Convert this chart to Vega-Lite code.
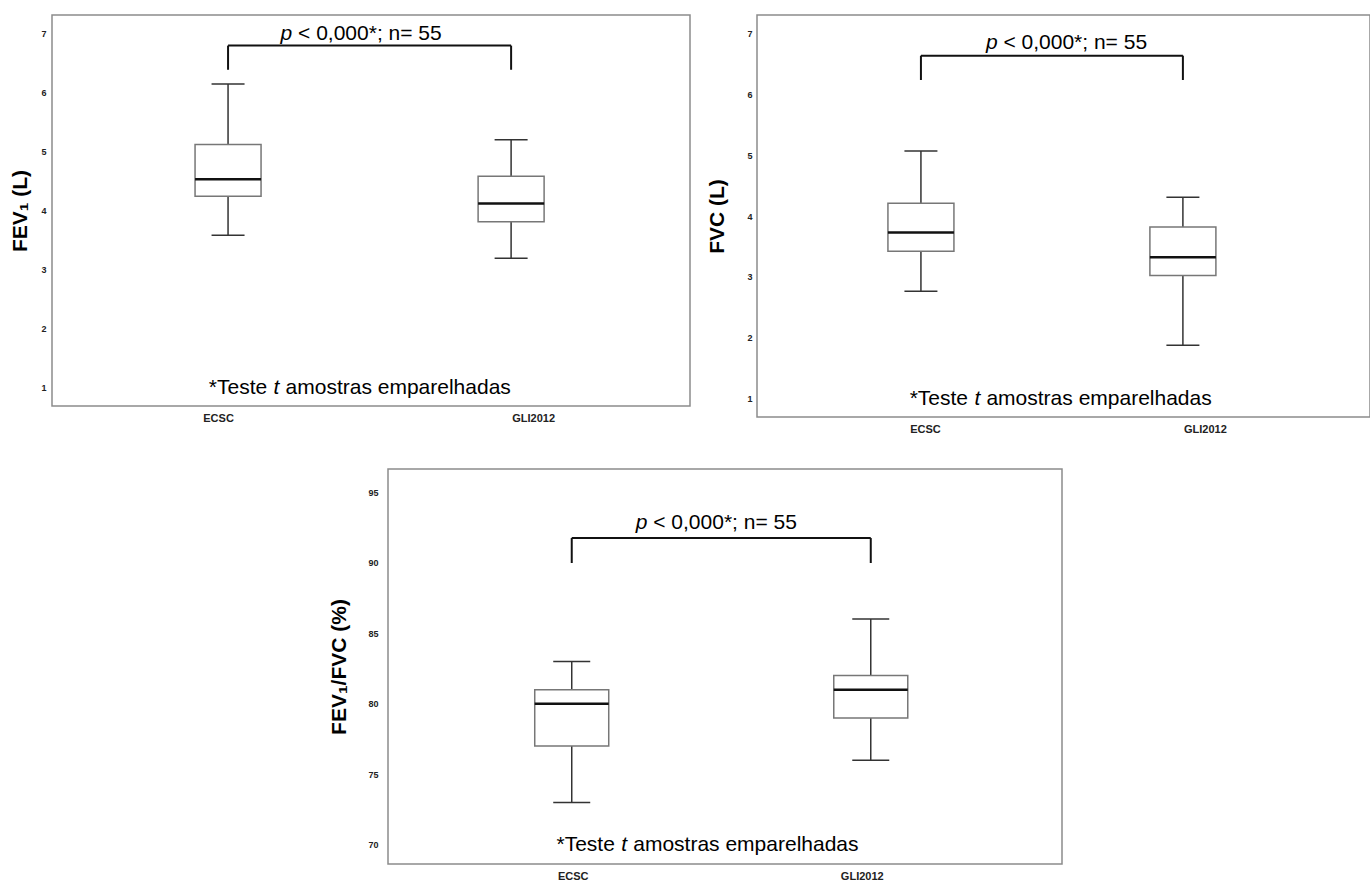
{
  "$schema": "https://vega.github.io/schema/vega-lite/v6.json",
  "padding": {"left": 9, "top": 14, "right": 0, "bottom": 0},
  "autosize": {"type": "pad"},
  "background": "white",
  "spacing": 33,
  "config": {
    "font": "Liberation Sans",
    "view": {"stroke": null},
    "axis": {"ticks": false, "domain": false, "grid": false, "labelColor": "#222", "labelFontWeight": "bold", "titleColor": "#000", "titleFontWeight": "bold", "titleFontSize": 21}
  },
  "datasets": {
    "fev1": [
      {"grupo": "ECSC", "min": 3.58, "q1": 4.24, "med": 4.53, "q3": 5.12, "max": 6.15},
      {"grupo": "GLI2012", "min": 3.19, "q1": 3.81, "med": 4.12, "q3": 4.58, "max": 5.2}
    ],
    "fvc": [
      {"grupo": "ECSC", "min": 2.76, "q1": 3.42, "med": 3.73, "q3": 4.21, "max": 5.07},
      {"grupo": "GLI2012", "min": 1.87, "q1": 3.02, "med": 3.32, "q3": 3.82, "max": 4.31}
    ],
    "ratio": [
      {"grupo": "ECSC", "min": 73, "q1": 77, "med": 80, "q3": 81, "max": 83},
      {"grupo": "GLI2012", "min": 76, "q1": 79, "med": 81, "q3": 82, "max": 86}
    ]
  },
  "vconcat": [
    {
      "bounds": "flush",
      "spacing": 67,
      "hconcat": [
        {
          "width": 638,
          "height": 391,
          "view": {"stroke": "#8c8c8c", "strokeWidth": 1.5},
          "data": {"name": "fev1"},
          "encoding": {
            "x": {"field": "grupo", "type": "nominal", "scale": {"type": "point", "padding": 0.627, "align": 0.496}, "axis": {"title": null, "labelFontSize": 11, "labelPadding": 6, "labelAngle": 0, "labelOffset": {"condition": {"test": "datum.value === 'ECSC'", "value": -10}, "value": 22}}}
          },
          "layer": [
            {"mark": {"type": "rule", "color": "#333", "strokeWidth": 1.5},
             "encoding": {"y": {"field": "min", "type": "quantitative", "scale": {"domain": [0.68, 7.32], "nice": false, "zero": false}, "axis": {"values": [1, 2, 3, 4, 5, 6, 7], "format": "d", "labelFontSize": 9, "labelPadding": 6, "titlePadding": 10}, "title": "FEV₁ (L)"}, "y2": {"field": "max"}}},
            {"mark": {"type": "bar", "width": 66, "fill": "white", "stroke": "#777", "strokeWidth": 1.5},
             "encoding": {"y": {"field": "q1", "type": "quantitative"}, "y2": {"field": "q3"}}},
            {"mark": {"type": "tick", "orient": "horizontal", "size": 66, "thickness": 2.5, "color": "#111", "opacity": 1},
             "encoding": {"y": {"field": "med", "type": "quantitative"}}},
            {"mark": {"type": "tick", "orient": "horizontal", "size": 33, "thickness": 1.5, "color": "#333", "opacity": 1},
             "encoding": {"y": {"field": "max", "type": "quantitative"}}},
            {"mark": {"type": "tick", "orient": "horizontal", "size": 33, "thickness": 1.5, "color": "#333", "opacity": 1},
             "encoding": {"y": {"field": "min", "type": "quantitative"}}},
            {"mark": {"type": "rule", "color": "#111", "strokeWidth": 2},
             "encoding": {"y": {"datum": 6.8}, "y2": {"datum": 6.39}}},
            {"data": {"values": [{}]},
             "layer": [
               {"mark": {"type": "rule", "color": "#111", "strokeWidth": 2},
                "encoding": {"x": {"datum": "ECSC", "type": "nominal"}, "x2": {"datum": "GLI2012"}, "y": {"datum": 6.8}}},
               {"mark": {"type": "text", "text": "p", "fontStyle": "italic", "fontSize": 21, "align": "left", "baseline": "middle", "dx": 52.5, "color": "#000"},
                "encoding": {"x": {"datum": "ECSC", "type": "nominal"}, "y": {"datum": 7.0}}},
               {"mark": {"type": "text", "text": "< 0,000*; n= 55", "fontSize": 21, "align": "left", "baseline": "middle", "dx": 70, "color": "#000"},
                "encoding": {"x": {"datum": "ECSC", "type": "nominal"}, "y": {"datum": 7.0}}},
               {"mark": {"type": "text", "text": "*Teste", "fontSize": 21, "align": "left", "baseline": "middle", "dx": -19.25, "color": "#000"},
                "encoding": {"x": {"datum": "ECSC", "type": "nominal"}, "y": {"datum": 0.98}}},
               {"mark": {"type": "text", "text": "t", "fontStyle": "italic", "fontSize": 21, "align": "left", "baseline": "middle", "dx": 45.5, "color": "#000"},
                "encoding": {"x": {"datum": "ECSC", "type": "nominal"}, "y": {"datum": 0.98}}},
               {"mark": {"type": "text", "text": "amostras emparelhadas", "fontSize": 21, "align": "left", "baseline": "middle", "dx": 57.5, "color": "#000"},
                "encoding": {"x": {"datum": "ECSC", "type": "nominal"}, "y": {"datum": 0.98}}}
             ]}
          ]
        },
        {
          "width": 613,
          "height": 402,
          "view": {"stroke": "#8c8c8c", "strokeWidth": 1.5},
          "data": {"name": "fvc"},
          "encoding": {
            "x": {"field": "grupo", "type": "nominal", "scale": {"type": "point", "padding": 0.67, "align": 0.467}, "axis": {"title": null, "labelFontSize": 11, "labelPadding": 6, "labelAngle": 0, "labelOffset": {"condition": {"test": "datum.value === 'ECSC'", "value": 4}, "value": 22}}}
          },
          "layer": [
            {"mark": {"type": "rule", "color": "#333", "strokeWidth": 1.5},
             "encoding": {"y": {"field": "min", "type": "quantitative", "scale": {"domain": [0.69, 7.31], "nice": false, "zero": false}, "axis": {"values": [1, 2, 3, 4, 5, 6, 7], "format": "d", "labelFontSize": 9, "labelPadding": 5, "titlePadding": 19}, "title": "FVC (L)"}, "y2": {"field": "max"}}},
            {"mark": {"type": "bar", "width": 66, "fill": "white", "stroke": "#777", "strokeWidth": 1.5},
             "encoding": {"y": {"field": "q1", "type": "quantitative"}, "y2": {"field": "q3"}}},
            {"mark": {"type": "tick", "orient": "horizontal", "size": 66, "thickness": 2.5, "color": "#111", "opacity": 1},
             "encoding": {"y": {"field": "med", "type": "quantitative"}}},
            {"mark": {"type": "tick", "orient": "horizontal", "size": 33, "thickness": 1.5, "color": "#333", "opacity": 1},
             "encoding": {"y": {"field": "max", "type": "quantitative"}}},
            {"mark": {"type": "tick", "orient": "horizontal", "size": 33, "thickness": 1.5, "color": "#333", "opacity": 1},
             "encoding": {"y": {"field": "min", "type": "quantitative"}}},
            {"mark": {"type": "rule", "color": "#111", "strokeWidth": 2},
             "encoding": {"y": {"datum": 6.64}, "y2": {"datum": 6.24}}},
            {"data": {"values": [{}]},
             "layer": [
               {"mark": {"type": "rule", "color": "#111", "strokeWidth": 2},
                "encoding": {"x": {"datum": "ECSC", "type": "nominal"}, "x2": {"datum": "GLI2012"}, "y": {"datum": 6.64}}},
               {"mark": {"type": "text", "text": "p", "fontStyle": "italic", "fontSize": 21, "align": "left", "baseline": "middle", "dx": 65, "color": "#000"},
                "encoding": {"x": {"datum": "ECSC", "type": "nominal"}, "y": {"datum": 6.85}}},
               {"mark": {"type": "text", "text": "< 0,000*; n= 55", "fontSize": 21, "align": "left", "baseline": "middle", "dx": 82.5, "color": "#000"},
                "encoding": {"x": {"datum": "ECSC", "type": "nominal"}, "y": {"datum": 6.85}}},
               {"mark": {"type": "text", "text": "*Teste", "fontSize": 21, "align": "left", "baseline": "middle", "dx": -11.25, "color": "#000"},
                "encoding": {"x": {"datum": "ECSC", "type": "nominal"}, "y": {"datum": 0.98}}},
               {"mark": {"type": "text", "text": "t", "fontStyle": "italic", "fontSize": 21, "align": "left", "baseline": "middle", "dx": 53.5, "color": "#000"},
                "encoding": {"x": {"datum": "ECSC", "type": "nominal"}, "y": {"datum": 0.98}}},
               {"mark": {"type": "text", "text": "amostras emparelhadas", "fontSize": 21, "align": "left", "baseline": "middle", "dx": 65.5, "color": "#000"},
                "encoding": {"x": {"datum": "ECSC", "type": "nominal"}, "y": {"datum": 0.98}}}
             ]}
          ]
        }
      ]
    },
    {
      "bounds": "flush",
      "spacing": 0,
      "hconcat": [
        {
          "width": 336,
          "height": 10,
          "data": {"values": [{}]},
          "mark": {"type": "point", "opacity": 0},
          "encoding": {}
        },
        {
          "width": 674,
          "height": 395,
          "view": {"stroke": "#8c8c8c", "strokeWidth": 1.5},
          "data": {"name": "ratio"},
          "encoding": {
            "x": {"field": "grupo", "type": "nominal", "scale": {"type": "point", "padding": 0.627, "align": 0.49}, "axis": {"title": null, "labelFontSize": 11, "labelPadding": 6, "labelAngle": 0, "labelOffset": {"condition": {"test": "datum.value === 'ECSC'", "value": 1}, "value": -9}}}
          },
          "layer": [
            {"mark": {"type": "rule", "color": "#333", "strokeWidth": 1.5},
             "encoding": {"y": {"field": "min", "type": "quantitative", "scale": {"domain": [68.65, 96.63], "nice": false, "zero": false}, "axis": {"values": [70, 75, 80, 85, 90, 95], "labelFontSize": 9, "labelPadding": 10, "titlePadding": 18}, "title": "FEV₁/FVC (%)"}, "y2": {"field": "max"}}},
            {"mark": {"type": "bar", "width": 74, "fill": "white", "stroke": "#777", "strokeWidth": 1.5},
             "encoding": {"y": {"field": "q1", "type": "quantitative"}, "y2": {"field": "q3"}}},
            {"mark": {"type": "tick", "orient": "horizontal", "size": 74, "thickness": 2.5, "color": "#111", "opacity": 1},
             "encoding": {"y": {"field": "med", "type": "quantitative"}}},
            {"mark": {"type": "tick", "orient": "horizontal", "size": 37, "thickness": 1.5, "color": "#333", "opacity": 1},
             "encoding": {"y": {"field": "max", "type": "quantitative"}}},
            {"mark": {"type": "tick", "orient": "horizontal", "size": 37, "thickness": 1.5, "color": "#333", "opacity": 1},
             "encoding": {"y": {"field": "min", "type": "quantitative"}}},
            {"mark": {"type": "rule", "color": "#111", "strokeWidth": 2},
             "encoding": {"y": {"datum": 91.74}, "y2": {"datum": 89.97}}},
            {"data": {"values": [{}]},
             "layer": [
               {"mark": {"type": "rule", "color": "#111", "strokeWidth": 2},
                "encoding": {"x": {"datum": "ECSC", "type": "nominal"}, "x2": {"datum": "GLI2012"}, "y": {"datum": 91.74}}},
               {"mark": {"type": "text", "text": "p", "fontStyle": "italic", "fontSize": 21, "align": "left", "baseline": "middle", "dx": 64, "color": "#000"},
                "encoding": {"x": {"datum": "ECSC", "type": "nominal"}, "y": {"datum": 92.8}}},
               {"mark": {"type": "text", "text": "< 0,000*; n= 55", "fontSize": 21, "align": "left", "baseline": "middle", "dx": 81.5, "color": "#000"},
                "encoding": {"x": {"datum": "ECSC", "type": "nominal"}, "y": {"datum": 92.8}}},
               {"mark": {"type": "text", "text": "*Teste", "fontSize": 21, "align": "left", "baseline": "middle", "dx": -15.25, "color": "#000"},
                "encoding": {"x": {"datum": "ECSC", "type": "nominal"}, "y": {"datum": 70.0}}},
               {"mark": {"type": "text", "text": "t", "fontStyle": "italic", "fontSize": 21, "align": "left", "baseline": "middle", "dx": 49.5, "color": "#000"},
                "encoding": {"x": {"datum": "ECSC", "type": "nominal"}, "y": {"datum": 70.0}}},
               {"mark": {"type": "text", "text": "amostras emparelhadas", "fontSize": 21, "align": "left", "baseline": "middle", "dx": 61.5, "color": "#000"},
                "encoding": {"x": {"datum": "ECSC", "type": "nominal"}, "y": {"datum": 70.0}}}
             ]}
          ]
        }
      ]
    }
  ]
}
